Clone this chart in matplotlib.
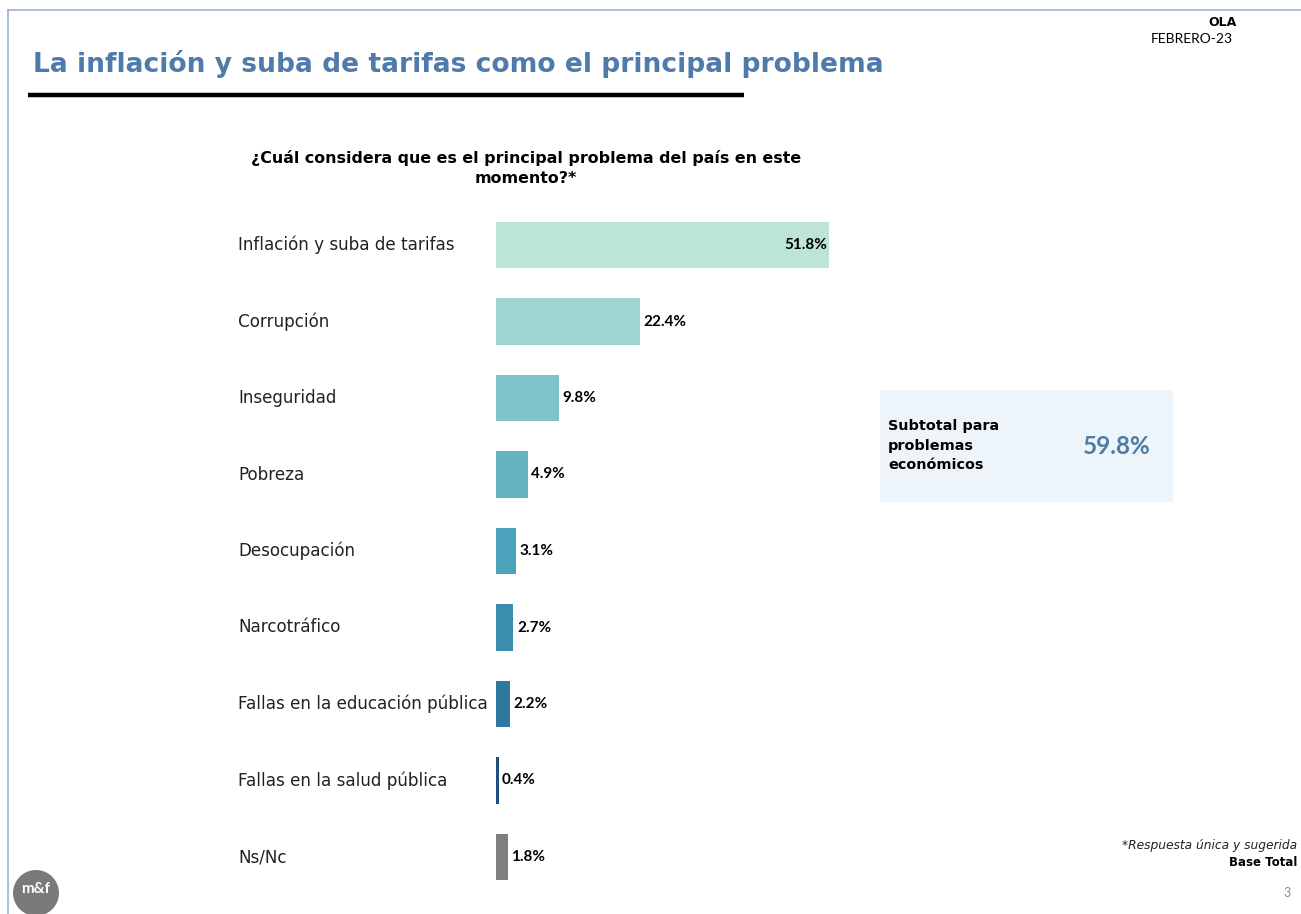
import matplotlib.pyplot as plt
from matplotlib.patches import Rectangle, Ellipse
from matplotlib.lines import Line2D

categories = ['Inflación y suba de tarifas', 'Corrupción', 'Inseguridad', 'Pobreza',
              'Desocupación', 'Narcotráfico', 'Fallas en la educación pública',
              'Fallas en la salud pública', 'Ns/Nc']
values = [51.8, 22.4, 9.8, 4.9, 3.1, 2.7, 2.2, 0.4, 1.8]
bar_colors = ['#BDE4D9', '#9ED5D3', '#80C3CB', '#66B2C0', '#4AA3BA',
              '#3A8DAF', '#2F79A0', '#1F4E7F', '#7F7F7F']
subtotal_label = 'Subtotal para\nproblemas\neconómicos'
subtotal_value = 59.8

W, H = 1301, 914
LATO = ['Lato', 'DejaVu Sans']
DEJAVU = ['DejaVu Sans']
plt.rcParams['font.family'] = LATO

fig = plt.figure(figsize=(W / 100, H / 100), dpi=100)


def fx(px):
    return px / W


def fy(py):
    return 1 - py / H


# frame lines (top and left)
fig.add_artist(Line2D([fx(8), fx(1301)], [fy(10), fy(10)], color='#9DB3CF', lw=1.2))
fig.add_artist(Line2D([fx(8), fx(8)], [fy(10), fy(914)], color='#9DB3CF', lw=1.2))

# header
fig.text(fx(33), fy(64), 'La inflación y suba de tarifas como el principal problema',
         fontsize=19.1, fontweight='bold', color='#4F7BAA', va='center', ha='left',
         family=DEJAVU)
fig.add_artist(Line2D([fx(28), fx(744)], [fy(95), fy(95)], color='black', lw=3.2,
                      solid_capstyle='butt'))
fig.text(fx(1237), fy(22), 'OLA', fontsize=9, fontweight='bold', ha='right', va='center',
         family=DEJAVU)
fig.text(fx(1233), fy(39), 'FEBRERO-23', fontsize=10, ha='right', va='center', family=LATO)

fig.text(fx(526), fy(168), '¿Cuál considera que es el principal problema del país en este\nmomento?*',
         fontsize=11.4, fontweight='bold', ha='center', va='center', linespacing=1.45,
         family=DEJAVU)

# bars
ax_left, ax_top, ax_bottom = 496, 206.75, 895.25
ax = fig.add_axes([fx(ax_left), fy(ax_bottom), 643 / W, (ax_bottom - ax_top) / H])
y = list(range(len(categories)))
ax.barh(y, values, height=0.61, color=bar_colors, edgecolor='none')
ax.set_xlim(0, 100)
ax.set_ylim(len(categories) - 0.5, -0.5)
ax.axis('off')

for i, (cat, v) in enumerate(zip(categories, values)):
    ax.text(-(ax_left - 238) / 6.43, i, cat, fontsize=12.1, ha='left', va='center',
            color='#222222', family=DEJAVU)
    label = f'{v:.1f}%'
    if i == 0:
        ax.text(v - 0.3, i, label, fontsize=11, fontweight='bold', ha='right', va='center')
    else:
        ax.text(v + 0.55, i, label, fontsize=11, fontweight='bold', ha='left', va='center')

# subtotal box
fig.add_artist(Rectangle((fx(880), fy(502)), (1173 - 880) / W, (502 - 390) / H,
                         facecolor='#EEF5FA', edgecolor='none'))
fig.text(fx(888), fy(446), subtotal_label, fontsize=10.4, fontweight='bold',
         ha='left', va='center', linespacing=1.5, family=DEJAVU)
fig.text(fx(1117), fy(447), f'{subtotal_value:.1f}%', fontsize=17.5, fontweight='bold',
         color='#4F7BAA', ha='center', va='center')

# footer
fig.text(fx(1297), fy(846), '*Respuesta única y sugerida', fontsize=8.8, style='italic',
         ha='right', va='center', color='#222222', family=DEJAVU)
fig.text(fx(1297), fy(863), 'Base Total', fontsize=8.5, fontweight='bold', ha='right',
         va='center', family=DEJAVU)
fig.text(fx(1291), fy(893), '3', fontsize=9, color='#888888', ha='right', va='center')

# logo
fig.add_artist(Ellipse((fx(36), fy(893)), 46 / W, 46 / H, transform=fig.transFigure,
                       facecolor='#7A7A7A', edgecolor='none'))
fig.text(fx(36), fy(889), 'm&f', fontsize=11, fontweight='bold', color='white',
         ha='center', va='center')

fig.savefig('out.png', dpi=100)
